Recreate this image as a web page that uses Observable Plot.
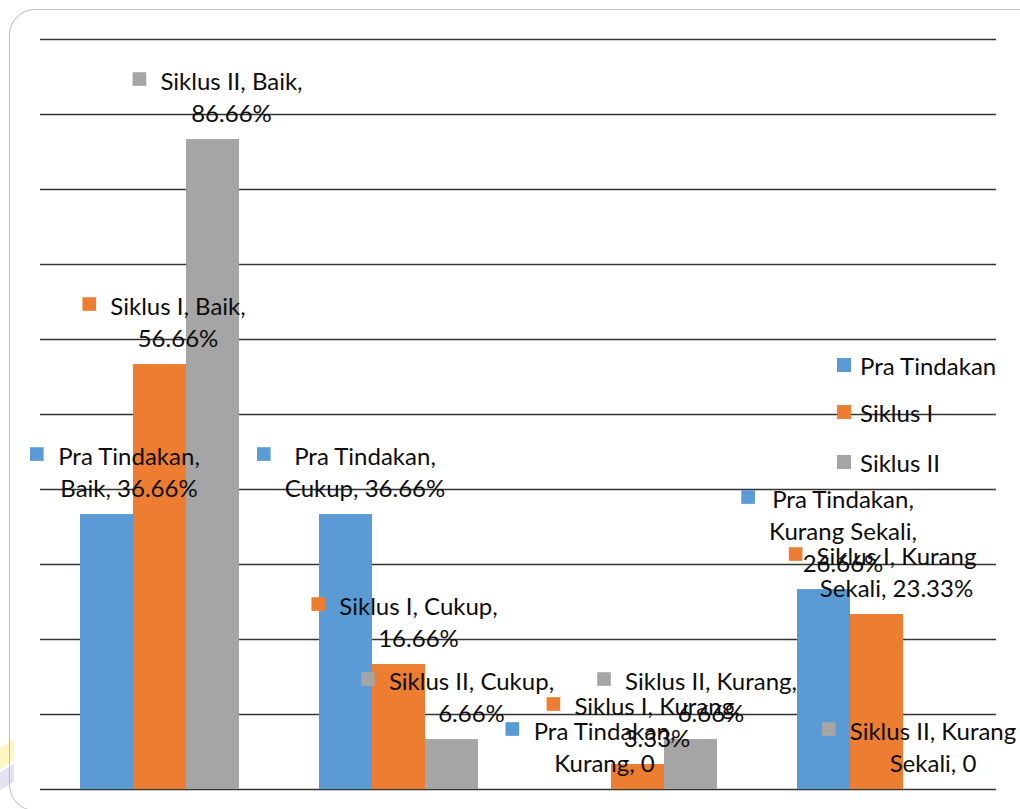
<!DOCTYPE html>
<html>
<head>
<meta charset="utf-8">
<script src="https://cdn.jsdelivr.net/npm/d3@7"></script>
<script src="https://cdn.jsdelivr.net/npm/@observablehq/plot@0.6"></script>
<style>
  html, body { margin: 0; padding: 0; background: #fff; overflow: hidden; }
  #wrap { position: relative; width: 1020px; height: 809px; overflow: hidden; }
  #frame { position: absolute; left: 9px; top: 9px; width: 1040px; height: 802px;
           border: 1.5px solid #bdbdbd; border-radius: 26px; box-sizing: border-box; }
  #chart { position: absolute; left: 0; top: 0; }
  .leg { position: absolute; left: 837px; font-family: Lato, sans-serif; font-size: 24px; color: #0d0d0d;
         display: flex; align-items: center; height: 30px; white-space: nowrap; }
  .leg span.sw { display: inline-block; width: 14px; height: 14px; margin-right: 9px; }
  #wm { position: absolute; left: 0; top: 720px; }
</style>
</head>
<body>
<div id="wrap">
  <svg id="wm" width="30" height="89">
    <polygon points="0,28 14,18 14,40 0,50" fill="#fff6c4"/>
    <polygon points="0,52 14,44 14,62 0,70" fill="#e4e2f2"/>
  </svg>
  <div id="frame"></div>
  <div id="chart"></div>
</div>
<script>
// ---- data ----
const categories = ["Baik", "Cukup", "Kurang", "Kurang Sekali"];
const series = ["Pra Tindakan", "Siklus I", "Siklus II"];
const praTindakan = [36.66, 36.66, 0, 26.66];
const siklusI = [56.66, 16.66, 3.33, 23.33];
const siklusII = [86.66, 6.66, 6.66, 0];
const seriesColors = ["#5B9BD5", "#ED7D31", "#A5A5A5"];
const yTicks = [0, 10, 20, 30, 40, 50, 60, 70, 80, 90, 100];
// data label texts (series order within each category)
const labelTexts = [
  "Pra Tindakan,\nBaik, 36.66%", "Siklus I, Baik,\n56.66%", "Siklus II, Baik,\n86.66%",
  "Pra Tindakan,\nCukup, 36.66%", "Siklus I, Cukup,\n16.66%", "Siklus II, Cukup,\n6.66%",
  "Pra Tindakan,\nKurang, 0", "Siklus I, Kurang,\n3.33%", "Siklus II, Kurang,\n6.66%",
  "Pra Tindakan,\nKurang Sekali,\n26.66%", "Siklus I, Kurang\nSekali, 23.33%", "Siklus II, Kurang\nSekali, 0"
];
// horizontal shift of each label's text centre from its bar centre (px)
const labelShift = [22, 18, 18.5, 19, 19.5, 19.5, 19.5, 19, 20, 19, 19.5, 3];

// ---- build table ----
const seriesValues = [praTindakan, siklusI, siklusII];
const rows = [];
categories.forEach((c, i) => series.forEach((s, j) => rows.push({category: c, series: s, value: seriesValues[j][i]})));

const FONT = "Lato, sans-serif";
const FS = 24;
const LH = 32;
const ctx = document.createElement("canvas").getContext("2d");
ctx.font = `${FS}px Lato`;

const textDy = -18;
const labelMarks = [];
rows.forEach((r, k) => {
  const lines = labelTexts[k].split("\n");
  const maxW = d3.max(lines, l => ctx.measureText(l).width);
  const dx = labelShift[k];
  labelMarks.push(Plot.text([r], {
    fx: "category", x: "series", y: "value", text: () => labelTexts[k],
    dx, dy: textDy, lineAnchor: "bottom", lineHeight: LH / FS,
    fontSize: FS, fill: "#0d0d0d", textAnchor: "middle"
  }));
  labelMarks.push(Plot.dot([r], {
    fx: "category", x: "series", y: "value", symbol: "square", r: 7.7,
    fill: seriesColors[series.indexOf(r.series)],
    dx: dx - maxW / 2 - 14 - 7, dy: textDy - (lines.length - 1) * LH - 10.5
  }));
});

const chart = Plot.plot({
  width: 1020, height: 809,
  marginLeft: 39, marginRight: 23, marginTop: 39, marginBottom: 20,
  style: {fontFamily: FONT, background: "transparent", overflow: "visible"},
  fx: {domain: categories, padding: 0, axis: null},
  x: {domain: series, paddingInner: 0, paddingOuter: 0.72, axis: null},
  y: {domain: [0, 100], axis: null},
  color: {domain: series, range: seriesColors},
  marks: [
    Plot.ruleY(yTicks, {stroke: "#333333", strokeWidth: 1.3}),
    Plot.barY(rows, {fx: "category", x: "series", y: "value", fill: "series"}),
    ...labelMarks
  ]
});
document.getElementById("chart").appendChild(chart);

// legend
const legendY = [350, 397, 447];
series.forEach((s, i) => {
  const d = document.createElement("div");
  d.className = "leg";
  d.style.top = legendY[i] + "px";
  d.innerHTML = `<span class="sw" style="background:${seriesColors[i]}"></span>${s}`;
  document.getElementById("wrap").appendChild(d);
});
</script>
</body>
</html>
